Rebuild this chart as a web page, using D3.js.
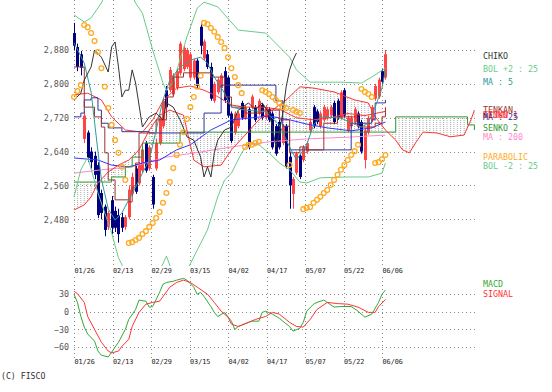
<!DOCTYPE html>
<html>
<head>
<meta charset="utf-8">
<script src="https://cdn.jsdelivr.net/npm/d3@7"></script>
<style>
  body { margin: 0; background: #fff; }
  text { font-family: 'DejaVu Sans Mono', monospace; }
</style>
</head>
<body>
<svg id="chart" width="552" height="392"></svg>
<script>
// ---- data ----
var dates = ['01/26', '02/13', '02/29', '03/15', '04/02', '04/17', '05/07', '05/22', '06/06'];
var priceTicks = [2480, 2560, 2640, 2720, 2800, 2880];
var macdTicks = [-60, -30, 0, 30];

// daily candles, bar 0 = 01/26
var opens = [2920,2887,2870,2670,2685,2640,2630,2608,2542,2510, 2462,2525,2500,2490,2485,2462,2485,2540,2600,2565,
  2595,2660,2600,2580,2600,2660,2700,2785,2785,2775, 2790,2825,2835,2840,2815,2815,2855,2935,2860,2870,
  2840,2760,2780,2790,2830,2815,2730,2685,2700,2755, 2720,2740,2745,2745,2730,2750,2720,2740,2730,2700,
  2710,2660,2700,2628,2540,2590,2630,2620,2640,2690, 2745,2735,2700,2715,2720,2725,2755,2760,2720,2785,
  2690,2700,2710,2730,2710,2620,2685,2715,2765,2770, 2830,2815];
var highs = [2944,2895,2878,2735,2690,2650,2640,2615,2550,2515, 2500,2535,2510,2505,2495,2490,2560,2590,2610,2615,
  2650,2665,2655,2585,2670,2725,2765,2795,2840,2825, 2835,2900,2890,2885,2875,2860,2860,2945,2905,2880,
  2850,2805,2815,2825,2840,2820,2735,2735,2735,2760, 2750,2745,2775,2750,2765,2755,2750,2745,2735,2705,
  2715,2705,2705,2640,2580,2640,2635,2655,2665,2715, 2750,2740,2735,2750,2745,2750,2760,2765,2785,2790,
  2725,2725,2745,2735,2715,2695,2725,2750,2800,2815, 2835,2880];
var lows = [2880,2830,2820,2660,2615,2600,2575,2483,2480,2440, 2455,2445,2450,2425,2450,2455,2480,2535,2540,2560,
  2590,2590,2595,2505,2595,2655,2695,2740,2780,2770, 2785,2820,2830,2835,2810,2810,2790,2870,2855,2835,
  2760,2755,2775,2785,2755,2720,2660,2680,2695,2715, 2715,2645,2740,2710,2725,2715,2715,2710,2645,2630,
  2645,2655,2600,2505,2505,2585,2575,2615,2635,2685, 2695,2705,2695,2710,2715,2720,2705,2715,2715,2720,
  2685,2695,2705,2695,2635,2600,2680,2710,2760,2765, 2800,2810];
var closes = [2890,2840,2838,2725,2625,2615,2585,2490,2495,2455, 2495,2460,2460,2445,2460,2485,2550,2580,2545,2610,
  2645,2595,2650,2515,2660,2720,2760,2745,2833,2820, 2830,2895,2885,2880,2870,2855,2795,2890,2900,2840,
  2765,2800,2810,2820,2762,2725,2665,2730,2730,2720, 2745,2650,2770,2715,2760,2720,2745,2715,2650,2635,
  2650,2700,2605,2560,2575,2635,2580,2650,2660,2710, 2700,2710,2730,2745,2740,2745,2710,2720,2780,2725,
  2720,2720,2740,2700,2640,2690,2720,2745,2795,2810, 2805,2870];

// indicator lines as [bar, value]
var chiko = [[0,2762],[2,2778],[3,2809],[5,2840],[6,2880],[8,2863],[10,2828],[11,2887],[12,2899],[13,2840],[14,2769],
  [15,2785],[16,2785],[17,2833],[18,2802],[20,2698],[22,2722],[24,2731],[26,2715],[27,2755],[29,2745],[31,2715],
  [33,2675],[35,2667],[37,2627],[38,2580],[39,2604],[40,2580],[41,2637],[42,2667],[44,2691],[46,2698],[48,2738],
  [51,2755],[53,2738],[55,2755],[57,2731],[58,2698],[59,2651],[60,2684],[61,2731],[62,2793],[63,2833],[64,2856],[65,2873]];
var bolUpper = [[0,2963],[3,2946],[5,2956],[8,2991],[10,3030],[14,3060],[18,2991],[20,2967],[23,2880],[26,2802],
  [27,2785],[29,2804],[33,2911],[36,2979],[38,2993],[42,2982],[48,2927],[56,2920],[63,2863],[65,2833],[69,2804],
  [78,2804],[84,2802],[87,2816],[91,2837]];
var bolLower = [[0,2533],[2,2597],[4,2627],[7,2542],[11,2448],[13,2389],[16,2340],[20,2320],[24,2340],[27,2393],
  [29,2350],[33,2360],[34,2375],[39,2455],[42,2533],[44,2573],[46,2589],[49,2637],[51,2660],[54,2656],[57,2637],
  [60,2613],[63,2597],[66,2568],[68,2566],[72,2578],[80,2580],[86,2580],[90,2589],[91,2613]];
var ma5 = [[0,2897],[3,2849],[5,2780],[7,2640],[8,2575],[10,2505],[12,2478],[14,2495],[16,2526],[18,2556],[20,2589],
  [22,2620],[24,2691],[26,2762],[28,2809],[31,2840],[34,2856],[37,2863],[39,2849],[41,2816],[44,2778],[46,2745],
  [50,2738],[56,2734],[60,2703],[63,2651],[65,2620],[68,2656],[70,2703],[72,2722],[78,2719],[84,2698],[86,2707],
  [88,2745],[90,2790],[91,2833]];
var ma25 = [[0,2774],[4,2778],[8,2762],[11,2722],[15,2691],[20,2686],[23,2715],[26,2760],[30,2790],[34,2795],
  [38,2785],[42,2770],[46,2750],[50,2745],[55,2745],[60,2740],[65,2720],[70,2715],[75,2720],[80,2730],[85,2725],[91,2735]];
var ma75 = [[0,2625],[7,2620],[11,2608],[16,2604],[20,2613],[25,2620],[30,2644],[34,2656],[40,2691],[46,2715],
  [51,2719],[57,2724],[63,2715],[68,2705],[74,2696],[81,2689],[87,2696],[91,2710]];
var ma200 = [[0,2589],[8,2597],[17,2604],[27,2627],[37,2639],[46,2651],[57,2663],[68,2670],[80,2674],[91,2679]];
var tenkan = [[0,2840],[3,2745],[6,2722],[8,2698],[9,2637],[10,2573],[12,2526],[16,2521],[17,2556],[18,2613],
  [19,2684],[24,2715],[27,2769],[29,2816],[32,2826],[40,2816],[44,2769],[46,2745],[50,2731],[55,2738],[60,2715],
  [63,2637],[66,2651],[68,2644],[73,2707],[77,2722],[83,2698],[88,2707],[90,2722],[91,2745]];
var kijun = [[0,2722],[2,2731],[3,2762],[5,2767],[7,2738],[8,2707],[10,2696],[14,2687],[22,2684],[38,2731],
  [43,2797],[57,2797],[59,2760],[61,2700],[63,2644],[80,2644],[81,2707],[87,2715],[88,2755],[91,2762]];
var senko1 = [[0,2502],[3,2514],[5,2533],[7,2566],[10,2592],[13,2608],[16,2620],[19,2644],[22,2691],[25,2726],
  [28,2738],[32,2726],[35,2620],[38,2604],[43,2608],[46,2644],[50,2679],[54,2715],[58,2738],[62,2762],[66,2793],
  [70,2790],[76,2781],[82,2762],[86,2755],[88,2722],[91,2691],[94,2667],[96,2644],[98,2637],[100,2663],[102,2686],
  [106,2684],[110,2675],[114,2679],[116,2715],[117,2738]];
var senko2 = [[0,2568],[11,2580],[15,2604],[17,2627],[20,2660],[31,2686],[94,2722],[115,2703],[117,2691]];
var parabolic = [2769,2783,2797, 2939,2934,2920,2901,2875,2837,2793,2743,2703,2667,2637,2604,2573,
  2424,2426,2431,2436,2445,2452,2462,2471,2483,2497,2519,2542,2568,2601,2632,2656,2686,2717,2745,2769,2793,2819,
  2944,2941,2932,2923,2911,2899,2885,2863,2837,2816,2797,2778,
  2651,2656,2656,2660,2663,
  2785,2781,2776,2769,2762,2755,2745,2743, 2608, 2738,2734,2731,
  2504,2507,2509,2519,2526,2533,2542,2549,2561,2573,2585,2597,2608,2620,2632,2641,2656,
  2788,2781,2776,2769, 2613,2615,2622,2632];

// MACD panel, [bar, value]
var macd = [[0,30],[1,16],[2,-8],[3,-26],[4,-38],[6,-50],[7,-67],[8,-74],[10,-77],[11,-69],[12,-60],[13,-52],
  [15,-30],[16,-13],[18,4],[19,20],[21,18],[22,8],[23,9],[25,33],[26,47],[27,50],[29,52],[30,54],[32,57],[33,54],
  [35,42],[36,30],[37,33],[38,26],[40,9],[41,-1],[42,-8],[44,-1],[46,-16],[47,-30],[48,-25],[51,-18],[52,-16],
  [54,-16],[55,-1],[56,1],[58,-4],[60,-11],[61,-16],[63,-25],[64,-33],[66,-28],[67,-18],[68,1],[70,13],[71,16],
  [73,20],[74,16],[76,8],[78,9],[81,9],[83,1],[85,-9],[87,-4],[89,16],[90,30],[91,37]];
var signal = [[0,35],[1,31],[3,16],[4,-8],[6,-30],[8,-52],[10,-67],[11,-70],[13,-67],[14,-59],[16,-47],[17,-25],
  [19,-1],[21,13],[23,16],[25,18],[26,26],[28,42],[30,50],[32,54],[34,50],[36,42],[39,30],[41,16],[43,1],[45,-9],
  [46,-21],[48,-25],[51,-18],[53,-13],[56,-8],[58,-1],[60,-4],[63,-18],[65,-25],[67,-26],[69,-13],[71,4],[74,16],
  [77,14],[80,13],[83,8],[86,-1],[88,-1],[89,9],[91,21]];

var legendNames = ['CHIKO', 'BOL +2 : 25', 'MA : 5', 'TENKAN', 'KIJUN', 'SENKO 1', 'MA : 25', 'SENKO 2',
  'MA : 200', 'PARABOLIC', 'BOL -2 : 25'];
var macdNames = ['MACD', 'SIGNAL'];

// ---- layout ----
var svg = d3.select('#chart');
var gridColor = '#8a8a8a';
var plotRight = 475;

var x = d3.scaleLinear().domain([0, 90]).range([74, 382]);
var xDate = d3.scalePoint().domain(dates).range([74, 382]);
var y = d3.scaleLinear().domain([2480, 2880]).range([219.3, 50]);
var yM = d3.scaleLinear().domain([-60, 30]).range([347, 294.2]);

var colors = {
  chiko: '#333333', bol: '#66cc88', ma5: '#339999', tenkan: '#993333', kijun: '#333399',
  senko1: '#ff3333', ma25: '#ff3333', ma75: '#3333ff', senko2: '#339933', ma200: '#ff88cc',
  sar: '#ffaa22', up: '#ff4444', down: '#000080', macd: '#33aa33', signal: '#ff3333'
};

var defs = svg.append('defs');
defs.append('clipPath').attr('id', 'clipMain')
  .append('rect').attr('x', 70).attr('y', 0).attr('width', 410).attr('height', 266);
defs.append('clipPath').attr('id', 'clipMacd')
  .append('rect').attr('x', 70).attr('y', 277).attr('width', 410).attr('height', 84);

// Vertical hatch used for the cloud.
var step = x(1) - x(0);
var hatch = defs.append('pattern').attr('id', 'hatch')
    .attr('patternUnits', 'userSpaceOnUse')
    .attr('x', x(0) - 0.5).attr('y', 0)
    .attr('width', step).attr('height', 2);
hatch.append('rect').attr('width', 1).attr('height', 1).attr('fill', '#a8a8a8');

// ---- grid ----
var grid = svg.append('g').attr('class', 'grid')
    .attr('stroke', gridColor).attr('stroke-dasharray', '1,3').attr('stroke-width', 1);
priceTicks.forEach(function(v) {
  grid.append('line').attr('x1', 74).attr('x2', plotRight)
      .attr('y1', Math.round(y(v)) + 0.5).attr('y2', Math.round(y(v)) + 0.5);
});
macdTicks.forEach(function(v) {
  grid.append('line').attr('x1', 74).attr('x2', plotRight)
      .attr('y1', Math.round(yM(v)) + 0.5).attr('y2', Math.round(yM(v)) + 0.5);
});
dates.forEach(function(d) {
  var gx = Math.round(xDate(d)) + 0.5;
  grid.append('line').attr('x1', gx).attr('x2', gx).attr('y1', 0).attr('y2', 266);
  grid.append('line').attr('x1', gx).attr('x2', gx).attr('y1', 277).attr('y2', 361);
});

// ---- axes ----
function styleAxis(g, size, color) {
  g.select('.domain').remove();
  g.selectAll('text').style('font-family', "'DejaVu Sans Mono', monospace")
      .style('font-size', size + 'px').attr('fill', color);
}
svg.append('g').attr('transform', 'translate(69,0)')
    .call(d3.axisLeft(y).tickValues(priceTicks).tickSize(0).tickPadding(0).tickFormat(d3.format(',')))
    .call(styleAxis, 8.4, '#555');
svg.append('g').attr('transform', 'translate(69,0)')
    .call(d3.axisLeft(yM).tickValues(macdTicks).tickSize(0).tickPadding(0))
    .call(styleAxis, 8.4, '#555');
[267, 358].forEach(function(ty) {
  svg.append('g').attr('transform', 'translate(0,' + ty + ')')
      .call(d3.axisBottom(xDate).tickSize(0).tickPadding(1))
      .call(styleAxis, 6.8, '#222')
      .selectAll('text').attr('text-anchor', 'start');
});

// ---- main panel ----
var main = svg.append('g').attr('clip-path', 'url(#clipMain)');

// Cloud: senko 1 forward, senko 2 back (step), filled with the hatch.
var lineLin = d3.line().x(function(d) { return x(d[0]); }).y(function(d) { return y(d[1]); });
var lineStep = d3.line().curve(d3.curveStepAfter)
    .x(function(d) { return x(d[0]); }).y(function(d) { return y(d[1]); });
var lineStepBack = d3.line().curve(d3.curveStepBefore)
    .x(function(d) { return x(d[0]); }).y(function(d) { return y(d[1]); });
var cloudPath = lineLin(senko1) + lineStepBack(senko2.slice().reverse()).replace(/^M/, 'L') + 'Z';
main.append('path').attr('d', cloudPath).attr('fill', 'url(#hatch)').attr('fill-rule', 'evenodd');

// Candles.
var bars = d3.range(opens.length).map(function(i) {
  return {i: i, o: opens[i], h: highs[i], l: lows[i], c: closes[i]};
});
var candle = main.selectAll('.candle').data(bars).enter().append('g').attr('class', 'candle');
candle.append('line')
    .attr('x1', function(d) { return Math.round(x(d.i)) + 0.5; })
    .attr('x2', function(d) { return Math.round(x(d.i)) + 0.5; })
    .attr('y1', function(d) { return y(d.h); })
    .attr('y2', function(d) { return y(d.l); })
    .attr('stroke', function(d) { return d.c >= d.o ? colors.up : colors.down; });
candle.append('rect')
    .attr('x', function(d) { return Math.round(x(d.i)) - 1; })
    .attr('width', 3)
    .attr('y', function(d) { return y(Math.max(d.o, d.c)); })
    .attr('height', function(d) { return Math.max(1, Math.abs(y(d.o) - y(d.c))); })
    .attr('fill', function(d) { return d.c >= d.o ? colors.up : colors.down; });

// Indicator lines.
function drawLine(data, gen, color, width) {
  main.append('path').attr('d', gen(data)).attr('fill', 'none')
      .attr('stroke', color).attr('stroke-width', width || 1);
}
drawLine(ma200, lineLin, colors.ma200);
drawLine(ma75, lineLin, colors.ma75);
drawLine(senko2, lineStep, colors.senko2);
drawLine(senko1, lineLin, colors.senko1);
drawLine(bolUpper, lineLin, colors.bol);
drawLine(bolLower, lineLin, colors.bol);
drawLine(ma25, lineLin, colors.ma25);
drawLine(kijun, lineStep, colors.kijun);
drawLine(tenkan, lineStep, colors.tenkan);
drawLine(ma5, lineLin, colors.ma5);
drawLine(chiko, lineLin, colors.chiko);

// Parabolic SAR rings.
main.selectAll('.sar').data(parabolic).enter().append('circle')
    .attr('class', 'sar')
    .attr('cx', function(d, i) { return x(i); })
    .attr('cy', function(d) { return y(d); })
    .attr('r', 2.4)
    .attr('fill', 'none')
    .attr('stroke', colors.sar)
    .attr('stroke-width', 1.3);

// ---- MACD panel ----
var lower = svg.append('g').attr('clip-path', 'url(#clipMacd)');
var lineM = d3.line().x(function(d) { return x(d[0]); }).y(function(d) { return yM(d[1]); });
lower.append('path').attr('d', lineM(macd)).attr('fill', 'none').attr('stroke', colors.macd);
lower.append('path').attr('d', lineM(signal)).attr('fill', 'none').attr('stroke', colors.signal);

// ---- legend ----
var legendColors = [colors.chiko, colors.bol, colors.ma5, colors.tenkan, colors.ma25, colors.senko1,
  colors.kijun, colors.senko2, colors.ma200, colors.sar, colors.bol];
var legendY = [59, 72, 85, 113, 118, 118, 120, 131, 140, 160, 169];
var legend = svg.append('g').style('font-size', '8.3px');
legendNames.forEach(function(name, k) {
  legend.append('text').attr('x', 483).attr('y', legendY[k]).attr('fill', legendColors[k]).text(name);
});
macdNames.forEach(function(name, k) {
  legend.append('text').attr('x', 483).attr('y', 287 + k * 10)
      .attr('fill', k ? colors.signal : colors.macd).text(name);
});

svg.append('text').attr('x', 1).attr('y', 379).attr('fill', '#333')
    .style('font-size', '8.2px').text('(C) FISCO');
</script>
</body>
</html>
